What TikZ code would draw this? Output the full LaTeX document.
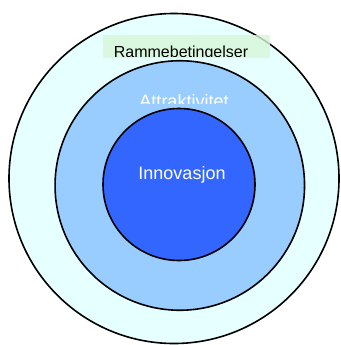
\documentclass[tikz,border=0pt]{standalone}
\usepackage{fontspec}
\setmainfont{Liberation Sans}
\usetikzlibrary{positioning}
\definecolor{outerfill}{HTML}{E6FFFF}
\definecolor{middlefill}{HTML}{99CCFF}
\definecolor{innerfill}{HTML}{3366FF}
\definecolor{boxfill}{HTML}{D8F6D8}
\begin{document}
\begin{tikzpicture}[x=1pt, y=-1pt,
        ring/.style={circle, draw, line width=1.6pt, inner sep=0pt},
        label/.style={anchor=base, inner sep=0pt, font=\fontsize{18}{20}\selectfont, text=white}
    ]
        \useasboundingbox (0,0) rectangle (340,345);

        % Circles
        \node[ring, fill=outerfill, minimum size=330pt] (rammer) at (174,178.5) {};
        \node[ring, fill=middlefill, minimum size=249.5pt] (attr) at (179.8,185.5) {};
        \node[ring, fill=innerfill, minimum size=152pt] (innov) at (179,184.5) {};

        % Label box
        \node[fill=boxfill, fill opacity=0.8, minimum width=167pt, minimum height=22.5pt, inner sep=0pt] (box) at (186.5,46.5) {};

        % Labels
        \begin{scope}
            \clip (100,30) rectangle (275,56.8);
            \node[label, text=black, font=\fontsize{16}{18}\selectfont] (ramtext) at (181,57.2) {Rammebetingelser};
        \end{scope}
        \begin{scope}
            \clip (120,85) rectangle (250,103.3);
            \node[label] (attrtext) at (184,107) {Attraktivitet};
        \end{scope}
        \node[label] (innovtext) at (182,179) {Innovasjon};

    \end{tikzpicture}
\end{document}
